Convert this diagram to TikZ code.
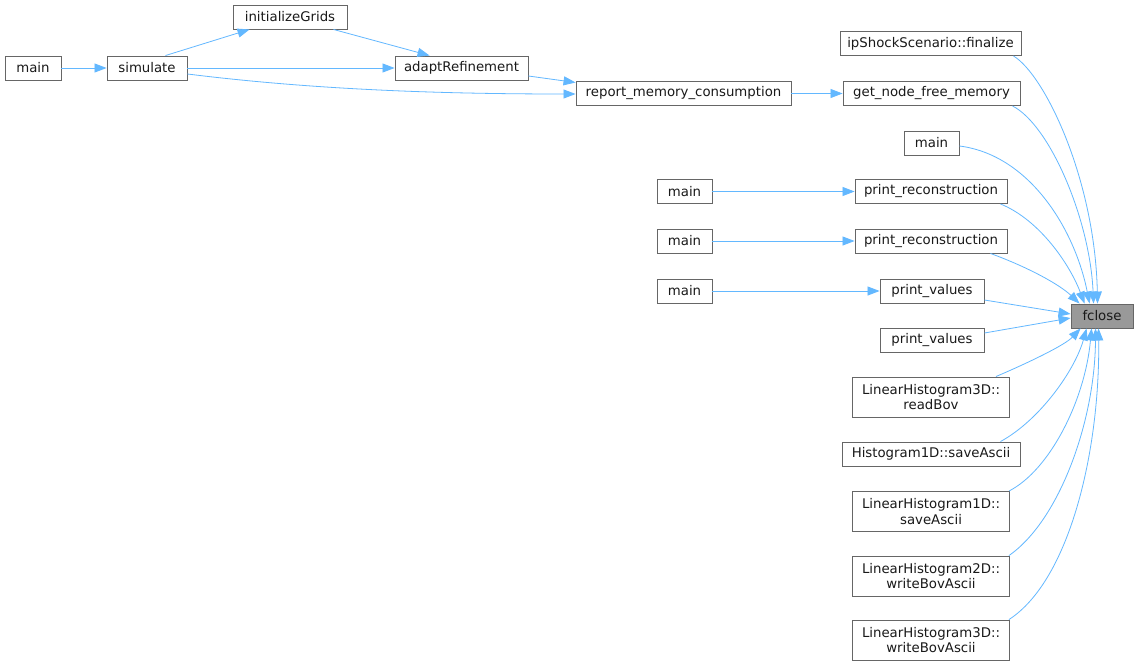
\documentclass[tikz,border=0pt]{standalone}
\usepackage{fontspec}
\setmainfont{DejaVu Sans}
\usetikzlibrary{arrows.meta}
\definecolor{edgec}{HTML}{63B8FF}
\definecolor{boxc}{HTML}{666666}
\definecolor{hlc}{HTML}{999999}
\begin{document}
\begin{tikzpicture}[x=1pt,y=-1pt,
  box/.style={draw=boxc,line width=0.9pt,fill=white,inner sep=0pt,minimum height=24pt,align=center,font=\fontsize{13.3}{15.6}\selectfont,text=black!90},
  edge/.style={draw=edgec,line width=0.8pt,-{Triangle[length=12pt,width=9pt]}}]
\useasboundingbox (0,0) rectangle (1139,666);
\fill[white] (0,0) rectangle (1139,666);
% nodes
\node[box,minimum width=56pt] (m1) at (33,68) {main};
\node[box,minimum width=80pt] (sim) at (147,68) {simulate};
\node[box,minimum width=114pt] (ig) at (290,17) {initializeGrids};
\node[box,minimum width=133pt] (ar) at (461.5,68) {adaptRefinement};
\node[box,minimum width=215pt] (rep) at (683.5,93.5) {report\_memory\_consumption};
\node[box,minimum width=181pt] (ips) at (930.5,43.5) {ipShockScenario::finalize};
\node[box,minimum width=177pt] (gn) at (931.5,93.5) {get\_node\_free\_memory};
\node[box,minimum width=55pt] (m3) at (931.5,143) {main};
\node[box,minimum width=55pt] (m4) at (684.5,191.5) {main};
\node[box,minimum width=152pt] (pr1) at (931,191.5) {print\_reconstruction};
\node[box,minimum width=55pt] (m5) at (684.5,241) {main};
\node[box,minimum width=152pt] (pr2) at (931,241) {print\_reconstruction};
\node[box,minimum width=55pt] (m6) at (684.5,291) {main};
\node[box,minimum width=104pt] (pv1) at (932,291) {print\_values};
\node[box,minimum width=62pt,fill=hlc] (fc) at (1102,316) {fclose};
\node[box,minimum width=104pt] (pv2) at (932,340.5) {print\_values};
\node[box,minimum width=157pt,minimum height=40pt] (rb) at (931,397) {LinearHistogram3D::\\readBov};
\node[box,minimum width=178pt] (h1) at (931,454) {Histogram1D::saveAscii};
\node[box,minimum width=157pt,minimum height=40pt] (lh1) at (931,511.5) {LinearHistogram1D::\\saveAscii};
\node[box,minimum width=157pt,minimum height=40pt] (lh2) at (931,576) {LinearHistogram2D::\\writeBovAscii};
\node[box,minimum width=157pt,minimum height=40pt] (lh3) at (931,640) {LinearHistogram3D::\\writeBovAscii};
% edges
\draw[edge] (m1.east) -- (sim.west);
\draw[edge] ([xshift=-22pt]sim.north east) -- ([xshift=17pt]ig.south west);
\draw[edge] (sim.east) -- (ar.west);
\draw[edge] ([yshift=-6pt]sim.east) .. controls (300,88) and (420,94) .. ([yshift=-0.5pt]rep.west);
\draw[edge] ([xshift=-14pt]ig.south east) -- ([xshift=35pt]ar.north west);
\draw[edge] ([yshift=-8pt]ar.east) -- ([yshift=11pt]rep.west);
\draw[edge] (rep.east) -- (gn.west);
\draw[edge] (m4.east) -- (pr1.west);
\draw[edge] (m5.east) -- (pr2.west);
\draw[edge] (m6.east) -- (pv1.west);
% into fclose
\draw[edge] ([xshift=-8pt]ips.south east) .. controls (1045,75) and (1095,180) .. ([xshift=27pt]fc.north west);
\draw[edge] ([xshift=-8pt]gn.south east) .. controls (1050,125) and (1090,220) .. ([xshift=23pt]fc.north west);
\draw[edge] ([yshift=-3pt]m3.east) .. controls (1030,155) and (1075,230) .. ([xshift=19pt]fc.north west);
\draw[edge] ([xshift=-7pt]pr1.south east) .. controls (1040,220) and (1070,265) .. ([xshift=14pt]fc.north west);
\draw[edge] ([xshift=-17pt]pr2.south east) .. controls (1030,268) and (1060,285) .. ([xshift=9pt]fc.north west);
\draw[edge] ([yshift=-9pt]pv1.east) -- ([yshift=2pt]fc.west);
\draw[edge] ([yshift=7.5pt]pv2.east) -- ([yshift=-2pt]fc.west);
\draw[edge] ([xshift=-14pt]rb.north east) .. controls (1030,362) and (1065,345) .. ([xshift=10pt]fc.south west);
\draw[edge] ([xshift=-20pt]h1.north east) .. controls (1040,420) and (1075,370) .. ([xshift=16pt]fc.south west);
\draw[edge] ([xshift=-1pt]lh1.north east) .. controls (1050,470) and (1085,400) .. ([xshift=21pt]fc.south west);
\draw[edge] ([xshift=-1pt]lh2.north east) .. controls (1060,520) and (1095,420) .. ([xshift=25pt]fc.south west);
\draw[edge] ([xshift=-1pt]lh3.north east) .. controls (1070,580) and (1100,450) .. ([xshift=28pt]fc.south west);
\end{tikzpicture}
\end{document}
